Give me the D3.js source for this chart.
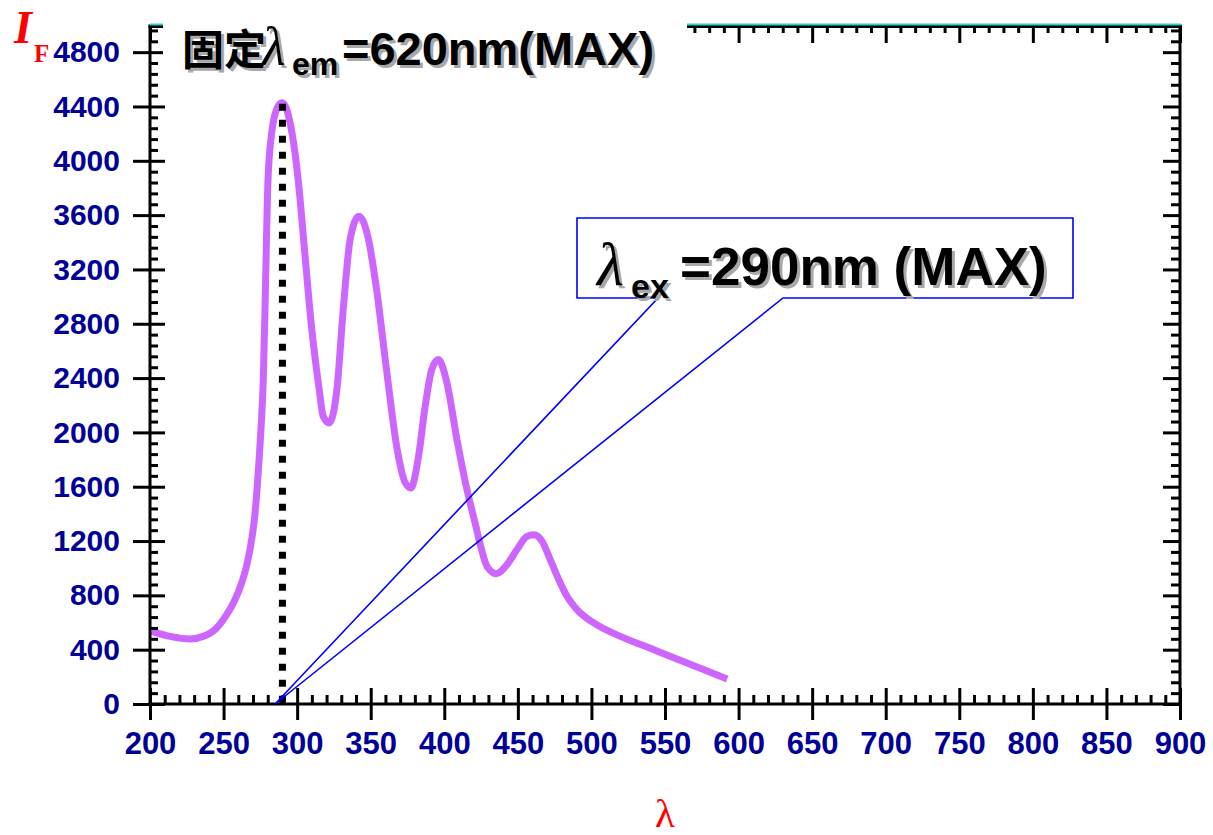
<!DOCTYPE html>
<html>
<head>
<meta charset="utf-8">
<script src="https://cdn.jsdelivr.net/npm/d3@7"></script>
<style>
  html, body { margin: 0; padding: 0; background: #fff; }
  svg { display: block; }
</style>
</head>
<body>
<svg id="chart" width="1213" height="835"></svg>
<script>
// Excitation spectrum, emission fixed at 620 nm
const wavelength = [201, 213.6, 227.2, 236.2, 245.3, 252.1, 257.8, 262.3, 266.1, 269.1, 271.4,
  272.9, 274.3, 275.4, 277, 278.3, 280.2, 283, 286.5, 289.7, 292.5, 295.2, 300.7, 305.4, 309.5,
  315, 317.7, 321.8, 327, 331.5, 336, 342, 348.5, 354, 361, 368, 373.5, 377.3, 382.5, 387,
  391.5, 396, 401.8, 408.6, 415.4, 421, 425, 429, 435.4, 442.6, 449.4, 456.2, 460.8, 466.5,
  472, 477.8, 483.4, 490.2, 501.6, 519.7, 542.4, 565, 592.3];
const intensity = [535, 498, 479, 498, 560, 658, 769, 892, 1039, 1211, 1408,
  1604, 1825, 2022, 2389, 2980, 3862, 4230, 4390, 4427, 4390, 4280, 3862, 3297, 2806,
  2315, 2119, 2070, 2315, 2929, 3420, 3592, 3420, 3052, 2438, 1873, 1628, 1591, 1824, 2192,
  2463, 2536, 2365, 1947, 1579, 1330, 1150, 1014, 960, 1026, 1137, 1235, 1247, 1198,
  1063, 916, 793, 695, 597, 498, 400, 302, 184];

const xTicks = [200, 250, 300, 350, 400, 450, 500, 550, 600, 650, 700, 750, 800, 850, 900];
const yTicks = [0, 400, 800, 1200, 1600, 2000, 2400, 2800, 3200, 3600, 4000, 4400, 4800];
const xMinor = d3.range(200, 901, 10).filter(v => v % 50 !== 0);
const yMinor = d3.range(0, 5000, 80).filter(v => v % 400 !== 0);

const peakWavelength = 290;
const peakIntensity = 4427;
const calloutTipWavelength = 285;

const titleText = "固定";
const titleSub = "em";
const titleTail = "=620nm(MAX)";
const calloutSub = "ex";
const calloutTail = "=290nm (MAX)";

const svg = d3.select("#chart");
const W = 1213, H = 835;
const margin = { left: 150, right: 33, top: 25, bottom: 131 };
const pw = W - margin.left - margin.right;
const ph = H - margin.top - margin.bottom;

const x = d3.scaleLinear().domain([200, 900]).range([margin.left, margin.left + pw]);
const y = d3.scaleLinear().domain([0, 5000]).range([margin.top + ph, margin.top]);

const labelColor = "#000099";
const sansBold = "'Liberation Sans', Arial, sans-serif";
const serif = "'Liberation Serif', 'Times New Roman', serif";

// ---- spectrum curve ----
const pts = wavelength.map((w, i) => [w, intensity[i]]);
const line = d3.line().x(d => x(d[0])).y(d => y(d[1])).curve(d3.curveMonotoneX);
svg.append("path")
  .attr("d", line(pts))
  .attr("fill", "none")
  .attr("stroke", "#cc66ff")
  .attr("stroke-width", 7)
  .attr("stroke-linecap", "butt")
  .attr("stroke-linejoin", "round");

// ---- dotted marker at the excitation maximum ----
svg.append("line")
  .attr("x1", x(peakWavelength)).attr("x2", x(peakWavelength))
  .attr("y1", y(peakIntensity) + 1).attr("y2", y(0))
  .attr("stroke", "#000")
  .attr("stroke-width", 7)
  .attr("stroke-dasharray", "7,9");

// ---- axes ----
function styleAxis(g, w) {
  g.select(".domain").remove();
  g.selectAll(".tick line").attr("stroke", "#000").attr("stroke-width", w);
}

// left
const gLeftMinor = svg.append("g").attr("transform", `translate(${margin.left},0)`)
  .call(d3.axisLeft(y).tickValues(yMinor).tickSize(-8).tickFormat(""));
styleAxis(gLeftMinor, 3);
const gLeft = svg.append("g").attr("transform", `translate(${margin.left},0)`)
  .call(d3.axisLeft(y).tickValues(yTicks).tickSize(17).tickPadding(13).tickFormat(d3.format("d")));
styleAxis(gLeft, 3);
gLeft.selectAll(".tick line").attr("x1", 15);
gLeft.selectAll(".tick text")
  .attr("fill", labelColor).attr("font-family", sansBold)
  .attr("font-weight", "bold").attr("font-size", 30);

// bottom
const gBotMinor = svg.append("g").attr("transform", `translate(0,${margin.top + ph})`)
  .call(d3.axisBottom(x).tickValues(xMinor).tickSize(-9).tickFormat(""));
styleAxis(gBotMinor, 3);
const gBot = svg.append("g").attr("transform", `translate(0,${margin.top + ph})`)
  .call(d3.axisBottom(x).tickValues(xTicks).tickSize(16).tickPadding(12).tickFormat(d3.format("d")));
styleAxis(gBot, 3);
gBot.selectAll(".tick line").attr("y1", -16);
gBot.selectAll(".tick text")
  .attr("fill", labelColor).attr("font-family", sansBold)
  .attr("font-weight", "bold").attr("font-size", 31);

// right
const gRightMinor = svg.append("g").attr("transform", `translate(${margin.left + pw},0)`)
  .call(d3.axisRight(y).tickValues(yMinor).tickSize(-9).tickFormat(""));
styleAxis(gRightMinor, 3);
const gRight = svg.append("g").attr("transform", `translate(${margin.left + pw},0)`)
  .call(d3.axisRight(y).tickValues(yTicks).tickSize(-17).tickFormat(""));
styleAxis(gRight, 3);

// top
const gTopMinor = svg.append("g").attr("transform", `translate(0,${margin.top})`)
  .call(d3.axisTop(x).tickValues(xMinor).tickSize(-8).tickFormat(""));
styleAxis(gTopMinor, 3);
const gTop = svg.append("g").attr("transform", `translate(0,${margin.top})`)
  .call(d3.axisTop(x).tickValues(xTicks).tickSize(-18).tickFormat(""));
styleAxis(gTop, 3);

// frame
const frame = svg.append("g").attr("stroke", "#000").attr("stroke-width", 3).attr("stroke-linecap", "square");
frame.append("line").attr("x1", margin.left).attr("x2", margin.left).attr("y1", margin.top + 1).attr("y2", margin.top + ph);
frame.append("line").attr("x1", margin.left + pw).attr("x2", margin.left + pw).attr("y1", margin.top + 1).attr("y2", margin.top + ph);
frame.append("line").attr("x1", margin.left).attr("x2", margin.left + pw).attr("y1", margin.top + ph).attr("y2", margin.top + ph);
frame.append("line").attr("x1", margin.left).attr("x2", margin.left + pw).attr("y1", margin.top + 1.5).attr("y2", margin.top + 1.5);
svg.append("line")
  .attr("x1", margin.left).attr("x2", margin.left + pw + 1)
  .attr("y1", margin.top - 0.5).attr("y2", margin.top - 0.5)
  .attr("stroke", "#33cccc").attr("stroke-width", 2);

// ---- axis titles ----
svg.append("text").attr("x", 14).attr("y", 43)
  .attr("font-family", serif)
  .attr("font-style", "italic").attr("font-weight", "bold")
  .attr("font-size", 46).attr("fill", "#ff0000").text("I");
svg.append("text").attr("x", 34).attr("y", 62)
  .attr("font-family", serif)
  .attr("font-weight", "bold")
  .attr("font-size", 25).attr("fill", "#ff0000").text("F");
svg.append("text").attr("x", margin.left + pw / 2).attr("y", 827)
  .attr("text-anchor", "middle")
  .attr("font-family", serif)
  .attr("font-size", 41).attr("fill", "#ff0000").text("λ");

// ---- shadowed text runs ----
function shadowRun(parent, opts) {
  const g = parent.append("g");
  [["#a8a8a8", 3], ["#000", 0]].forEach(([c, off]) => {
    g.append("text")
      .attr("x", opts.x + off).attr("y", opts.y + off)
      .attr("font-family", opts.family)
      .attr("font-size", opts.size)
      .attr("font-weight", opts.weight || "bold")
      .attr("font-style", opts.style || "normal")
      .attr("fill", c)
      .text(opts.text);
  });
  return g;
}

// title, with a white backing that hides the top axis beneath it
svg.append("rect").attr("x", 163).attr("y", 0).attr("width", 524).attr("height", 82).attr("fill", "#fff");
const title = svg.append("g");
shadowRun(title, { x: 182, y: 65, text: titleText, size: 42, family: "'Noto Sans CJK SC', sans-serif" });
shadowRun(title, { x: 262, y: 65, text: "λ", size: 54, style: "italic", weight: "normal", family: serif });
shadowRun(title, { x: 292, y: 75, text: titleSub, size: 32, family: sansBold });
shadowRun(title, { x: 342, y: 65, text: titleTail, size: 47, family: sansBold });

// ---- callout ----
const tipX = x(calloutTipWavelength), tipY = y(0);
const box = { l: 577, r: 1073, t: 218, b: 298, w1: 658, w2: 783 };
svg.append("path")
  .attr("d", `M${box.l},${box.t}L${box.r},${box.t}L${box.r},${box.b}L${box.w2},${box.b}L${tipX},${tipY}L${box.w1},${box.b}L${box.l},${box.b}Z`)
  .attr("fill", "none")
  .attr("stroke", "#0000ff")
  .attr("stroke-width", 1.6)
  .attr("stroke-linejoin", "miter");
const callout = svg.append("g");
shadowRun(callout, { x: 597, y: 285, text: "λ", size: 62, style: "italic", weight: "normal", family: serif });
shadowRun(callout, { x: 631, y: 298, text: calloutSub, size: 34, family: sansBold });
shadowRun(callout, { x: 680, y: 285, text: calloutTail, size: 53, family: sansBold });
</script>
</body>
</html>
